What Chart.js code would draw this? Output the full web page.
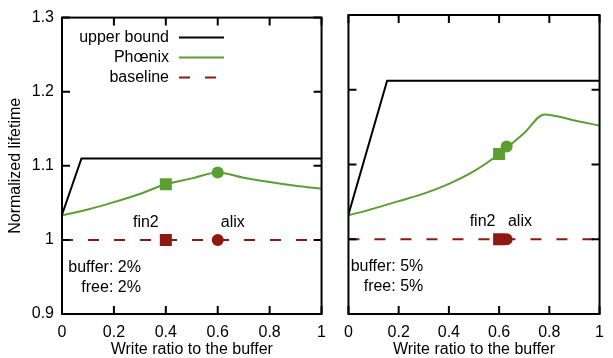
<!DOCTYPE html>
<html>
<head>
<meta charset="utf-8">
<script src="https://cdn.jsdelivr.net/npm/chart.js@4.4.1/dist/chart.umd.min.js"></script>
<style>
  body { margin: 0; background: #fff; width: 613px; height: 358px; position: relative; overflow: hidden; }
  canvas { position: absolute; top: 0; }
  #left { left: 0; }
  #right { left: 335px; }
</style>
</head>
<body>
<canvas id="left" width="335" height="358"></canvas>
<canvas id="right" width="278" height="358"></canvas>
<script>
// axis ticks
const xTicks = [0, 0.2, 0.4, 0.6, 0.8, 1];
const yTicks = [0.9, 1, 1.1, 1.2, 1.3];

// buffer 2% / free 2%
const upperX2 = [0, 0.075, 1];
const upperY2 = [1.034, 1.11, 1.11];
const phoenixX2 = [0, 0.1, 0.2, 0.3, 0.4, 0.5, 0.6, 0.7, 0.8, 0.9, 1];
const phoenixY2 = [1.033, 1.041, 1.051, 1.062, 1.075, 1.083, 1.091, 1.084, 1.078, 1.073, 1.069];
const fin2Point2 = [0.4, 1.075];
const alixPoint2 = [0.6, 1.091];

// buffer 5% / free 5%
const upperX5 = [0, 0.154, 1];
const upperY5 = [1.033, 1.212, 1.212];
const phoenixX5 = [0, 0.1, 0.2, 0.3, 0.4, 0.5, 0.6, 0.7, 0.78, 0.9, 1];
const phoenixY5 = [1.032, 1.041, 1.051, 1.061, 1.074, 1.091, 1.114, 1.142, 1.167, 1.159, 1.152];
const fin2Point5 = [0.6, 1.114];
const alixPoint5 = [0.63, 1.124];

// baseline (normalized to 1)
const baselineX = [0, 1];
const baselineY = [1, 1];

const GREEN = "#5b9f33";
const RED = "#8c1a10";
const FONT = { family: "'Liberation Sans', Arial, sans-serif", size: 16 };
const DASH = [11, 15];

function pts(xs, ys) {
  return xs.map((x, i) => ({ x: x, y: ys[i] }));
}

// frame + inward ticks, legend and text notes
function decorPlugin(p) {
  return {
    id: "decor",
    afterDatasetsDraw(chart) {
      const { ctx, chartArea: a, scales } = chart;
      ctx.save();
      ctx.strokeStyle = "#000";
      ctx.lineWidth = 2;
      ctx.strokeRect(a.left, a.top, a.right - a.left, a.bottom - a.top);
      ctx.beginPath();
      xTicks.forEach((v) => {
        const px = scales.x.getPixelForValue(v);
        ctx.moveTo(px, a.bottom); ctx.lineTo(px, a.bottom - 8);
        ctx.moveTo(px, a.top); ctx.lineTo(px, a.top + 8);
      });
      yTicks.forEach((v) => {
        const py = scales.y.getPixelForValue(v);
        ctx.moveTo(a.left, py); ctx.lineTo(a.left + 8, py);
        ctx.moveTo(a.right, py); ctx.lineTo(a.right - 8, py);
      });
      ctx.stroke();
      ctx.restore();
    },
    afterDraw(chart) {
      const { ctx, chartArea: a, scales } = chart;
      ctx.save();
      ctx.fillStyle = "#000";
      ctx.font = FONT.size + "px " + FONT.family;
      ctx.textBaseline = "middle";
      p.notes.forEach((n) => {
        ctx.textAlign = n.align;
        ctx.fillText(n.text, scales.x.getPixelForValue(n.x), scales.y.getPixelForValue(n.y));
      });
      if (p.legend) {
        const rows = [
          { text: "upper bound", color: "#000", dash: [] },
          { text: "Phœnix", color: GREEN, dash: [] },
          { text: "baseline", color: RED, dash: DASH },
        ];
        rows.forEach((r, i) => {
          const y = a.top + 20 + i * 20;
          ctx.textAlign = "right";
          ctx.fillStyle = "#000";
          ctx.fillText(r.text, a.left + 107, y);
          ctx.strokeStyle = r.color;
          ctx.lineWidth = 2;
          ctx.setLineDash(r.dash);
          ctx.beginPath();
          ctx.moveTo(a.left + 117, y);
          ctx.lineTo(a.left + (r.dash.length ? 154 : 162), y);
          ctx.stroke();
          ctx.setLineDash([]);
        });
      }
      ctx.restore();
    },
  };
}

function makePanel(id, p) {
  const datasets = [
    { data: [{ x: p.fin2[0], y: p.fin2[1] }], pointStyle: "rect", pointRadius: 8.5, backgroundColor: GREEN, borderWidth: 0, showLine: false },
    { data: [{ x: p.alix[0], y: p.alix[1] }], pointStyle: "circle", pointRadius: 6, backgroundColor: GREEN, borderWidth: 0, showLine: false },
    { data: [{ x: p.fin2[0], y: 1 }], pointStyle: "rect", pointRadius: 8.5, backgroundColor: RED, borderWidth: 0, showLine: false },
    { data: [{ x: p.alix[0], y: 1 }], pointStyle: "circle", pointRadius: 6, backgroundColor: RED, borderWidth: 0, showLine: false },
    { label: "upper bound", data: pts(p.upperX, p.upperY), borderColor: "#000", borderWidth: 2, pointRadius: 0, tension: 0 },
    { label: "Phœnix", data: pts(p.phoenixX, p.phoenixY), borderColor: GREEN, borderWidth: 2, pointRadius: 0, cubicInterpolationMode: "monotone" },
    { label: "baseline", data: pts(baselineX, baselineY), borderColor: RED, borderWidth: 2, borderDash: DASH, pointRadius: 0 },
  ];

  return new Chart(document.getElementById(id), {
    type: "line",
    data: { datasets: datasets },
    options: {
      responsive: false,
      animation: false,
      layout: { padding: { top: 15, right: p.padRight, left: 0, bottom: 0 } },
      plugins: { legend: { display: false }, tooltip: { enabled: false } },
      scales: {
        x: {
          type: "linear", min: 0, max: 1,
          grid: { display: false, drawTicks: false }, border: { display: false },
          afterBuildTicks: (s) => { s.ticks = xTicks.map((v) => ({ value: v })); },
          ticks: { font: FONT, color: "#000", padding: 9, maxRotation: 0, autoSkip: false, callback: (v) => String(v) },
          title: { display: true, text: "Write ratio to the buffer", font: { family: FONT.family, size: 16, lineHeight: 1 }, color: "#000", padding: 0 },
          afterFit: (s) => { s.height = 44; },
        },
        y: {
          type: "linear", min: 0.9, max: 1.3,
          grid: { display: false, drawTicks: false }, border: { display: false },
          afterBuildTicks: (s) => { s.ticks = yTicks.map((v) => ({ value: v })); },
          ticks: { display: p.yLabels, font: FONT, color: "#000", padding: 8, callback: (v) => String(v) },
          title: { display: p.yLabels, text: "Normalized lifetime", font: FONT, color: "#000", padding: 6 },
          afterFit: (s) => { s.width = p.yWidth; },
        },
      },
    },
    plugins: [decorPlugin(p)],
  });
}

makePanel("left", {
  upperX: upperX2, upperY: upperY2, phoenixX: phoenixX2, phoenixY: phoenixY2,
  fin2: fin2Point2, alix: alixPoint2,
  yLabels: true, yWidth: 62, padRight: 10, legend: true,
  notes: [
    { text: "fin2", x: 0.323, y: 1.024, align: "center" },
    { text: "alix", x: 0.658, y: 1.024, align: "center" },
    { text: "buffer: 2%", x: 0.304, y: 0.963, align: "right" },
    { text: "free: 2%", x: 0.304, y: 0.936, align: "right" },
  ],
});

makePanel("right", {
  upperX: upperX5, upperY: upperY5, phoenixX: phoenixX5, phoenixY: phoenixY5,
  fin2: fin2Point5, alix: alixPoint5,
  yLabels: false, yWidth: 12, padRight: 4, legend: false,
  notes: [
    { text: "fin2", x: 0.534, y: 1.024, align: "center" },
    { text: "alix", x: 0.683, y: 1.024, align: "center" },
    { text: "buffer: 5%", x: 0.298, y: 0.963, align: "right" },
    { text: "free: 5%", x: 0.298, y: 0.936, align: "right" },
  ],
});
</script>
</body>
</html>
